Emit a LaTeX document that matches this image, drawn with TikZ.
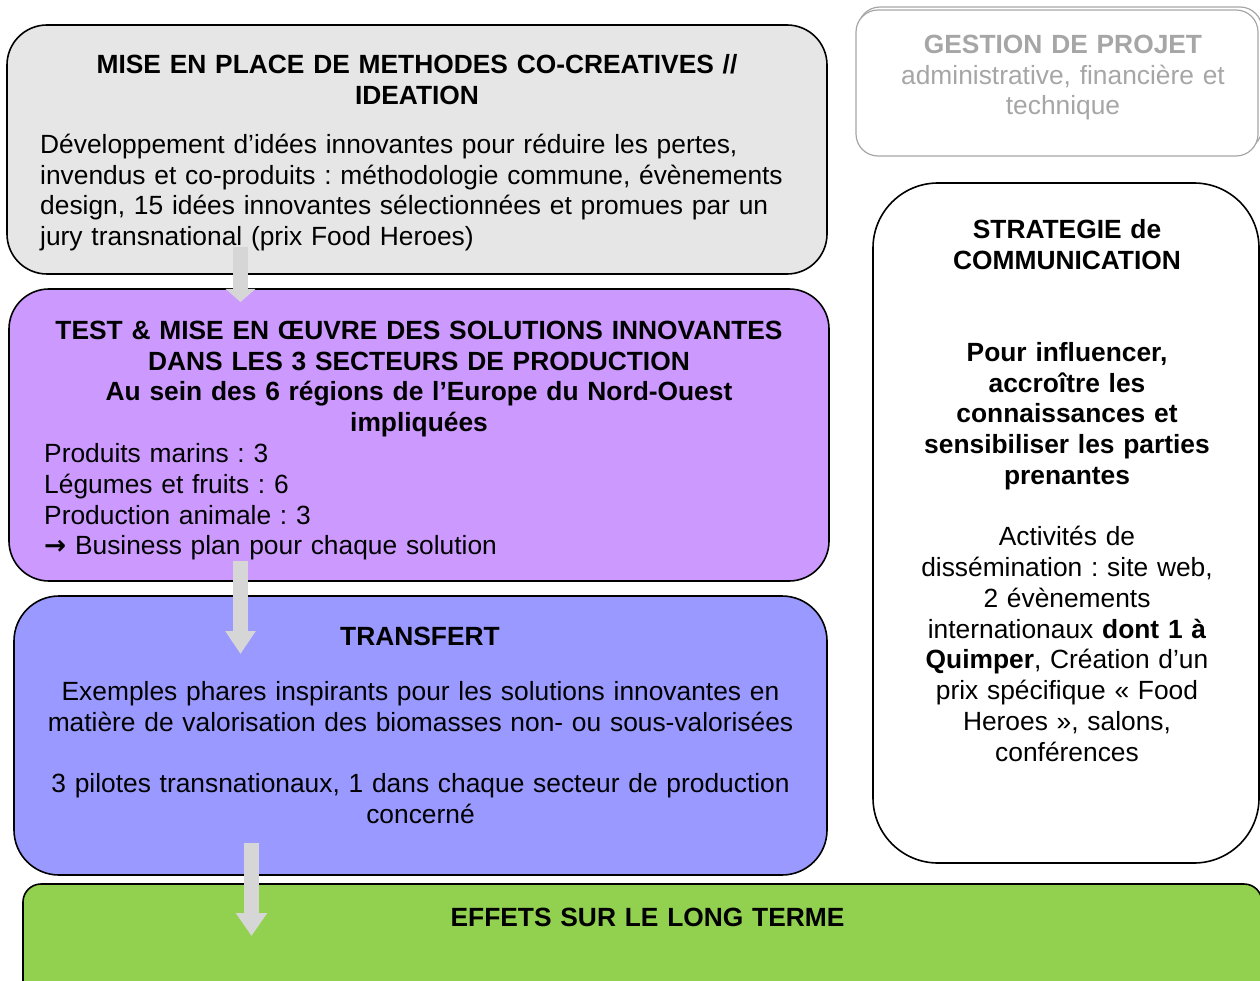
\documentclass[tikz,border=0pt]{standalone}
\usepackage{fontspec}
\setmainfont{Liberation Sans}
\newfontfamily\symfont{DejaVu Sans}
\usetikzlibrary{arrows.meta}
\frenchspacing
\definecolor{boxgray}{HTML}{E7E6E6}
\definecolor{boxpurple}{HTML}{CC99FF}
\definecolor{boxblue}{HTML}{9999FF}
\definecolor{boxgreen}{HTML}{92D050}
\definecolor{arrowgray}{HTML}{D6D6D6}
\definecolor{softgray}{HTML}{A6A6A6}
\tikzset{
  box/.style={draw=black, line width=1.6pt, rectangle, inner sep=0pt},
  txt/.style={font=\fontsize{26.35}{30.75}\selectfont\frenchspacing, inner sep=0pt},
  ctxt/.style={txt, align=center, anchor=base},
  ltxt/.style={txt, align=left, anchor=base west},
  bigarrow/.style={draw=arrowgray, line width=15pt}
}
\begin{document}
\begin{tikzpicture}[x=1pt,y=-1pt]
\useasboundingbox (0,0) rectangle (1260,981);
\clip (0,0) rectangle (1260,981);
% boxes
\node[box, fill=boxgray, minimum width=820pt, minimum height=249pt, rounded corners=40pt] (b1) at (417,149.5) {};
\node[box, fill=boxpurple, minimum width=820pt, minimum height=292pt, rounded corners=40pt] (b2) at (419,435) {};
\node[box, fill=boxblue, minimum width=813pt, minimum height=279pt, rounded corners=45pt] (b3) at (420.5,735.5) {};
\node[box, fill=boxgreen, minimum width=1239pt, minimum height=116pt, rounded corners=18pt] (b4) at (642.5,942) {};
\node[box, fill=white, minimum width=386pt, minimum height=680pt, rounded corners=65pt] (strat) at (1066,523) {};
\node[box, draw=softgray, line width=1.2pt, minimum width=404pt, minimum height=143pt, rounded corners=22pt] (gest2) at (1060,78.5) {};
\node[box, draw=softgray, line width=1.2pt, fill=white, minimum width=402pt, minimum height=146pt, rounded corners=22pt] (gest) at (1057,83) {};
% texts
\node[ctxt, text width=760pt] (t1) at (417,73.5) {\bfseries MISE EN PLACE DE METHODES CO-CREATIVES //\\ IDEATION};
\node[ltxt, text width=780pt] (t1b) at (40,153.5) {Développement d’idées innovantes pour réduire les pertes,\\ invendus et co-produits : méthodologie commune, évènements\\ design, 15 idées innovantes sélectionnées et promues par un\\ jury transnational (prix Food Heroes)};
\node[ctxt, text width=780pt] (t2) at (419,339.5) {\bfseries TEST \& MISE EN ŒUVRE DES SOLUTIONS INNOVANTES\\ DANS LES 3 SECTEURS DE PRODUCTION\\ Au sein des 6 régions de l’Europe du Nord-Ouest\\ impliquées};
\node[ltxt, text width=760pt] (t2b) at (44,462.5) {Produits marins : 3\\ Légumes et fruits : 6\\ Production animale : 3\\ {\symfont\bfseries →} Business plan pour chaque solution};
\node[ctxt, text width=780pt] (t3) at (420,645.5) {\bfseries TRANSFERT};
\node[ctxt, text width=790pt] (t3b) at (420.5,700.5) {Exemples phares inspirants pour les solutions innovantes en\\ matière de valorisation des biomasses non- ou sous-valorisées\\[30.75pt] 3 pilotes transnationaux, 1 dans chaque secteur de production\\ concerné};
\node[ctxt, text width=780pt] (t4) at (647.5,926.5) {\bfseries EFFETS SUR LE LONG TERME};
\node[ctxt, text width=340pt] (ts) at (1067,238.5) {\textbf{STRATEGIE de}\\ \textbf{COMMUNICATION}\\[61.5pt]
\textbf{Pour influencer,}\\ \textbf{accroître les}\\ \textbf{connaissances et}\\ \textbf{sensibiliser les parties}\\ \textbf{prenantes}\\[30.75pt]
Activités de\\ dissémination : site web,\\ 2 évènements\\ internationaux \textbf{dont 1 à}\\ \textbf{Quimper}, Création d’un\\ prix spécifique « Food\\ Heroes », salons,\\ conférences};
\node[ctxt, text width=380pt, text=softgray] (tg) at (1063,53.5) {\textbf{GESTION DE PROJET}\\ administrative, financière et\\ technique};
% arrows
\coordinate (a1s) at (240.5,247);
\coordinate (a1e) at (240.5,302);
\coordinate (a2s) at (240.5,561);
\coordinate (a2e) at (240.5,654);
\coordinate (a3s) at (251.5,843);
\coordinate (a3e) at (251.5,936);
\draw[bigarrow, -{Triangle[length=13pt,width=29pt]}] (a1s) -- (a1e);
\draw[bigarrow, -{Triangle[length=23pt,width=29pt]}] (a2s) -- (a2e);
\draw[bigarrow, -{Triangle[length=23pt,width=30pt]}] (a3s) -- (a3e);
\end{tikzpicture}
\end{document}
